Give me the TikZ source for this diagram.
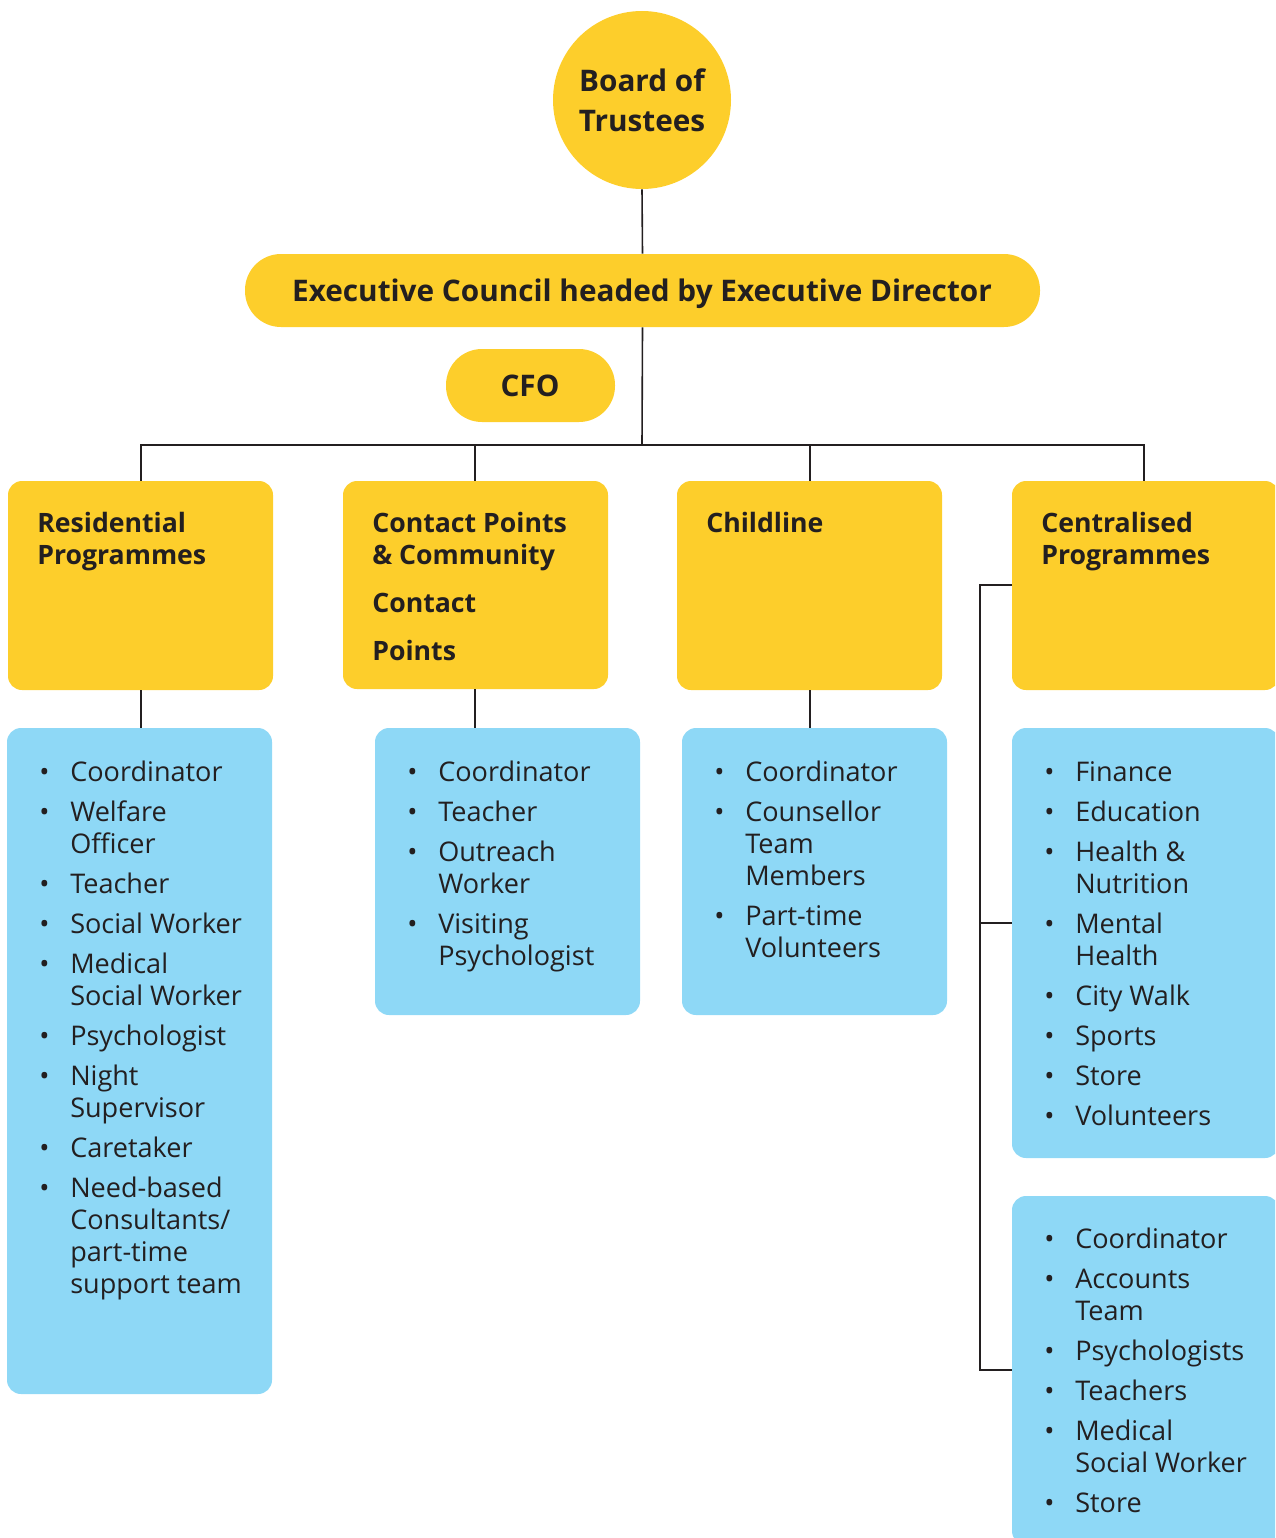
\documentclass[tikz,border=0pt]{standalone}
\usepackage{fontspec}
\setmainfont{Open Sans}
\usetikzlibrary{fit}
\definecolor{yel}{HTML}{FDCE2B}
\definecolor{blu}{HTML}{8ED8F6}
\definecolor{ink}{HTML}{231F20}
\newcommand{\blist}[1]{\begin{tabular}[t]{@{}p{23.25pt}@{}l@{}}#1\end{tabular}}
\newcommand{\hlist}[1]{\begin{tabular}[t]{@{}l@{}}#1\end{tabular}}
\newcommand{\bi}{\textbullet}
\begin{document}
\begin{tikzpicture}[x=0.75pt,y=-0.75pt,
  ybox/.style={fill=yel, draw=none, inner sep=0pt, rounded corners=10.5pt},
  bbox/.style={fill=blu, draw=none, inner sep=0pt, rounded corners=10.5pt},
  pill/.style={fill=yel, draw=none, inner sep=0pt, rounded corners=27pt},
  head/.style={text=ink, inner sep=0pt, anchor=base west, font=\fontsize{20}{24}\selectfont\bfseries},
  ctext/.style={text=ink, inner sep=0pt, anchor=base, font=\fontsize{22.3}{24}\selectfont\bfseries},
  items/.style={text=ink, inner sep=0pt, anchor=base west, font=\fontsize{20.3}{24}\selectfont},
  conn/.style={draw=ink, line width=1.2pt}]
\useasboundingbox (0,0) rectangle (1275,1538);
\clip (0,0) rectangle (1275,1538);

% top
\node[circle, fill=yel, minimum size=133.5pt, inner sep=0pt] (board) at (642,100) {};
\node[ctext] (boardt) at (642,91) {\begin{tabular}[t]{@{}c@{}}Board of\\[6pt]Trustees\end{tabular}};
\node[pill, fit={(245,254) (1040,327)}] (exec) {};
\node[ctext] (exect) at (642,301) {Executive Council headed by Executive Director};
\node[pill, fit={(446,349) (615,422)}] (cfo) {};
\node[ctext] (cfot) at (530,396) {CFO};

% yellow boxes
\node[ybox, fit={(8,481) (273,690)}] (yres) {};
\node[ybox, fit={(343,481) (608,689)}] (ycon) {};
\node[ybox, fit={(677,481) (942,690)}] (ychl) {};
\node[ybox, fit={(1012,481) (1279,690)}] (ycen) {};

\node[head] (hres) at (37,532) {\hlist{Residential\\Programmes}};
\node[head] (hcon) at (372,532) {\hlist{Contact Points\\\& Community\\[12pt]Contact\\[12pt]Points}};
\node[head] (hchl) at (706,532) {\hlist{Childline}};
\node[head] (hcen) at (1041,532) {\hlist{Centralised\\Programmes}};

% blue boxes
\node[bbox, fit={(7,728) (272,1394)}] (bres) {};
\node[bbox, fit={(375,728) (640,1015)}] (bcon) {};
\node[bbox, fit={(682,728) (947,1015)}] (bchl) {};
\node[bbox, fit={(1012,728) (1279,1158)}] (bcena) {};
\node[bbox, fit={(1012,1196) (1279,1545)}] (bcenb) {};

\node[items] (lres) at (39,781) {\blist{%
\bi & Coordinator\\[6pt]
\bi & Welfare\\ & Officer\\[6pt]
\bi & Teacher\\[6pt]
\bi & Social Worker\\[6pt]
\bi & Medical\\ & Social Worker\\[6pt]
\bi & Psychologist\\[6pt]
\bi & Night\\ & Supervisor\\[6pt]
\bi & Caretaker\\[6pt]
\bi & Need-based\\ & Consultants/\\ & part-time\\ & support team}};

\node[items] (lcon) at (407,781) {\blist{%
\bi & Coordinator\\[6pt]
\bi & Teacher\\[6pt]
\bi & Outreach\\ & Worker\\[6pt]
\bi & Visiting\\ & Psychologist}};

\node[items] (lchl) at (714,781) {\blist{%
\bi & Coordinator\\[6pt]
\bi & Counsellor\\ & Team\\ & Members\\[6pt]
\bi & Part-time\\ & Volunteers}};

\node[items] (lcena) at (1044,781) {\blist{%
\bi & Finance\\[6pt]
\bi & Education\\[6pt]
\bi & Health \&\\ & Nutrition\\[6pt]
\bi & Mental\\ & Health\\[6pt]
\bi & City Walk\\[6pt]
\bi & Sports\\[6pt]
\bi & Store\\[6pt]
\bi & Volunteers}};

\node[items] (lcenb) at (1044,1248) {\blist{%
\bi & Coordinator\\[6pt]
\bi & Accounts\\ & Team\\[6pt]
\bi & Psychologists\\[6pt]
\bi & Teachers\\[6pt]
\bi & Medical\\ & Social Worker\\[6pt]
\bi & Store}};

% connectors
\coordinate (bus) at (642,445);
\coordinate (brk) at (980,585);
\draw[conn] (board.south) -- (exec.north);
\draw[conn] (exec.south) -- (bus);
\draw[conn] (yres.north -| 141,0) -- (141,445) -- (1144,445) -- (1144,0 |- ycen.north);
\draw[conn] (475,445) -- (475,0 |- ycon.north);
\draw[conn] (810,445) -- (810,0 |- ychl.north);
\draw[conn] (141,0 |- yres.south) -- (141,0 |- bres.north);
\draw[conn] (475,0 |- ycon.south) -- (475,0 |- bcon.north);
\draw[conn] (810,0 |- ychl.south) -- (810,0 |- bchl.north);
\draw[conn] (ycen.west |- brk) -- (brk) -- (980,1370) -- (bcenb.west |- 0,1370);
\draw[conn] (980,923) -- (bcena.west |- 0,923);
\end{tikzpicture}
\end{document}
